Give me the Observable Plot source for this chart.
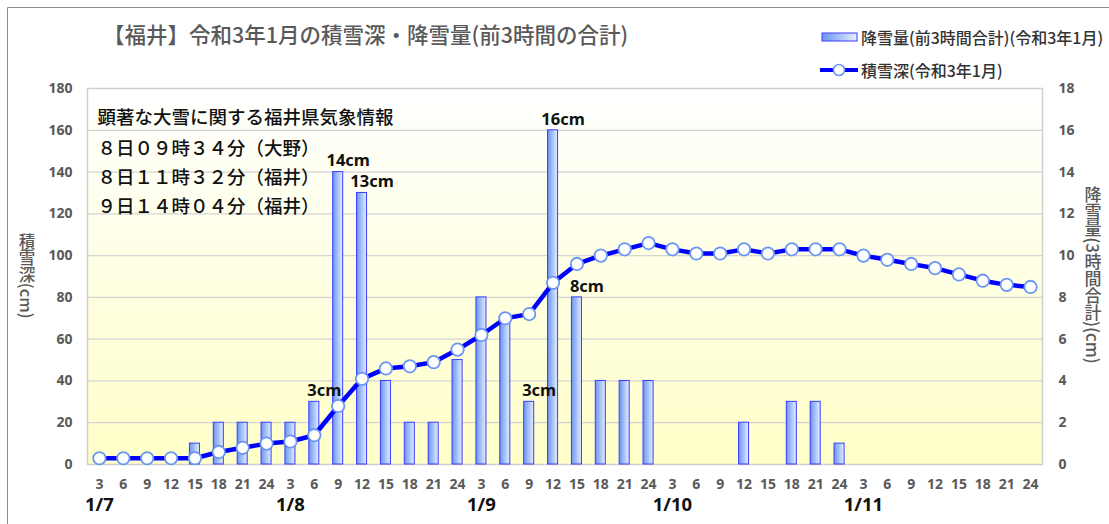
<!DOCTYPE html>
<html>
<head>
<meta charset="utf-8">
<script src="https://cdn.jsdelivr.net/npm/d3@7"></script>
<script src="https://cdn.jsdelivr.net/npm/@observablehq/plot@0.6"></script>
<style>
  body { margin: 0; background: #fff; }
  #wrap { position: relative; width: 1109px; height: 524px; overflow: hidden; }
  #wrap svg { position: absolute; left: 0; top: 0; }
</style>
</head>
<body>
<div id="wrap"></div>
<script>
// ---- data ----
const days = ["1/7", "1/8", "1/9", "1/10", "1/11"];
const hours = [3, 6, 9, 12, 15, 18, 21, 24];
// 積雪深 (cm), every 3 hours from 1/7 3時 to 1/11 24時
const snowDepth = [3, 3, 3, 3, 3, 6, 8, 10, 11, 14, 28, 41, 46, 47, 49, 55, 62, 70, 72, 87,
                   96, 100, 103, 106, 103, 101, 101, 103, 101, 103, 103, 103, 100, 98, 96, 94, 91, 88, 86, 85];
// 降雪量 (前3時間合計, cm)
const snowfall = [0, 0, 0, 0, 1, 2, 2, 2, 2, 3, 14, 13, 4, 2, 2, 5, 8, 7, 3, 16,
                  8, 4, 4, 4, 0, 0, 0, 2, 0, 3, 3, 1, 0, 0, 0, 0, 0, 0, 0, 0];
const labelIndex = [9, 10, 11, 18, 19, 20];
const leftTicks = [0, 20, 40, 60, 80, 100, 120, 140, 160, 180];
const rightTicks = [0, 2, 4, 6, 8, 10, 12, 14, 16, 18];
const titleText = "【福井】令和3年1月の積雪深・降雪量(前3時間の合計)";
const legendBar = "降雪量(前3時間合計)(令和3年1月)";
const legendLine = "積雪深(令和3年1月)";
const yLeftTitle = "積雪深(cm)";
const yRightTitle = "降雪量(3時間合計)(cm)";
const infoLines = ["顕著な大雪に関する福井県気象情報",
                   "８日０９時３４分（大野）",
                   "８日１１時３２分（福井）",
                   "９日１４時０４分（福井）"];

// ---- build table ----
const cats = days.flatMap(d => hours.map(h => `${d} ${h}`));
const data = cats.map((c, i) => ({cat: c, hour: hours[i % 8], depth: snowDepth[i], fall: snowfall[i]}));
const labels = labelIndex.map(i => ({cat: cats[i], fall: snowfall[i], text: `${snowfall[i]}cm`}));
const ratio = 10; // right axis (0-18) mapped on left scale (0-180)

const JP = "'Noto Sans CJK JP', 'Noto Sans', sans-serif";
const NUM = "'Noto Sans', 'Open Sans', sans-serif";

const chart = Plot.plot({
  width: 1109,
  height: 524,
  marginLeft: 87,
  marginRight: 67,
  marginTop: 88,
  marginBottom: 60,
  style: {fontFamily: JP, background: "transparent", overflow: "visible"},
  x: {domain: cats, paddingInner: 0.58, paddingOuter: 0.29, axis: null, label: null},
  y: {domain: [0, 180], axis: null, label: null},
  marks: [
    Plot.frame({fill: "url(#bgGrad)", stroke: "none"}),
    Plot.gridY({ticks: leftTicks, stroke: "#d4d4d4", strokeOpacity: 1, strokeWidth: 1.2}),
    Plot.frame({stroke: "#cfcfcf", strokeWidth: 1.5}),
    Plot.barY(data.filter(d => d.fall > 0), {
      x: "cat", y: d => d.fall * ratio,
      fill: "url(#barGrad)", stroke: "#3b3bff", strokeWidth: 1
    }),
    Plot.line(data, {x: "cat", y: "depth", stroke: "#0000ff", strokeWidth: 4.5}),
    Plot.dot(data, {x: "cat", y: "depth", r: 6.2, fill: "#ffffff", stroke: "#6b97f2", strokeWidth: 1.8}),
    Plot.text(labels, {
      x: "cat", y: d => d.fall * ratio, text: "text",
      dx: 10, dy: -11, fontSize: 16.5, fontWeight: "bold", fill: "#111", fontFamily: NUM
    }),
    Plot.axisY({
      ticks: leftTicks, anchor: "left", tickSize: 0, tickPadding: 15, label: null,
      fontSize: 14, fontWeight: "bold", fill: "#595959", fontFamily: NUM
    }),
    Plot.axisY({
      ticks: leftTicks, anchor: "right", tickSize: 0, tickPadding: 16, label: null,
      tickFormat: d => d / ratio,
      fontSize: 14, fontWeight: "bold", fill: "#595959", fontFamily: NUM
    }),
    Plot.axisX({
      anchor: "bottom", tickSize: 0, tickPadding: 15, label: null,
      tickFormat: c => c.split(" ")[1],
      fontSize: 14, fontWeight: "bold", fill: "#595959", fontFamily: NUM
    }),
    Plot.text(days, {
      x: d => `${d} 3`, text: d => d, frameAnchor: "bottom", dy: 41, lineAnchor: "middle",
      fontSize: 18.5, fontWeight: "bold", fill: "#111", fontFamily: NUM
    }),
    ...infoLines.map((t, i) => Plot.text([t], {
      text: d => d, frameAnchor: "top-left", lineAnchor: "middle", textAnchor: "start",
      dx: 10, dy: i === 0 ? 30 : 32 + i * 29,
      fontSize: 18.5, fontWeight: 500, fill: "#111", fontFamily: JP
    }))
  ]
});

// ---- gradients, frame, titles, legend ----
const svg = d3.select(chart);
const defs = svg.insert("defs", ":first-child");
const bg = defs.append("linearGradient").attr("id", "bgGrad").attr("x1", 0).attr("y1", 0).attr("x2", 0).attr("y2", 1);
bg.append("stop").attr("offset", "0%").attr("stop-color", "#ffffff");
bg.append("stop").attr("offset", "100%").attr("stop-color", "#ffffc8");
const bar = defs.append("linearGradient").attr("id", "barGrad").attr("x1", 0).attr("y1", 0).attr("x2", 1).attr("y2", 0);
bar.append("stop").attr("offset", "0%").attr("stop-color", "#6a95f2");
bar.append("stop").attr("offset", "100%").attr("stop-color", "#e4eeff");

const deco = svg.append("g").attr("text-anchor", "start");
deco.append("path").attr("d", "M7.5,524V7.5H1109").attr("fill", "none").attr("stroke", "#8c8c8c").attr("stroke-width", 1);

deco.append("text").attr("x", 103).attr("y", 33).attr("dominant-baseline", "central").attr("text-anchor", "start")
  .attr("font-family", JP).attr("font-size", 21.5).attr("font-weight", 500).attr("fill", "#595959").text(titleText);

// legend
deco.append("rect").attr("x", 822).attr("y", 33).attr("width", 35).attr("height", 8)
  .attr("fill", "url(#barGrad)").attr("stroke", "#3b3bff").attr("stroke-width", 1);
deco.append("text").attr("x", 861).attr("y", 37).attr("dominant-baseline", "central").attr("text-anchor", "start")
  .attr("font-family", JP).attr("font-size", 16).attr("font-weight", 500).attr("fill", "#333").text(legendBar);
deco.append("line").attr("x1", 820).attr("x2", 858).attr("y1", 70).attr("y2", 70)
  .attr("stroke", "#0000ff").attr("stroke-width", 4);
deco.append("circle").attr("cx", 839).attr("cy", 70).attr("r", 5.5)
  .attr("fill", "#fff").attr("stroke", "#6b97f2").attr("stroke-width", 1.6);
deco.append("text").attr("x", 861).attr("y", 70).attr("dominant-baseline", "central").attr("text-anchor", "start")
  .attr("font-family", JP).attr("font-size", 16).attr("font-weight", 500).attr("fill", "#333").text(legendLine);

// vertical axis titles
deco.append("text").attr("x", 27).attr("y", 276).attr("text-anchor", "middle")
  .style("writing-mode", "vertical-rl")
  .attr("font-family", JP).attr("font-size", 16.5).attr("font-weight", 500).attr("fill", "#595959").text(yLeftTitle);
deco.append("text").attr("x", 1093).attr("y", 275).attr("text-anchor", "middle")
  .style("writing-mode", "vertical-rl")
  .attr("font-family", JP).attr("font-size", 17).attr("font-weight", 500).attr("fill", "#595959").text(yRightTitle);

document.getElementById("wrap").appendChild(chart);
</script>
</body>
</html>
